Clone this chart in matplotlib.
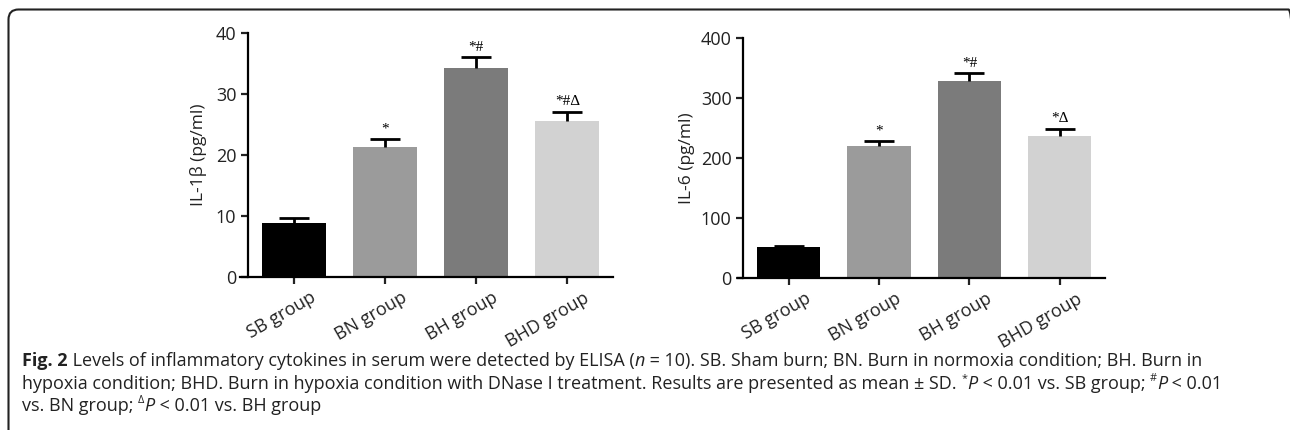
import matplotlib
matplotlib.use("Agg")
import matplotlib.pyplot as plt
from matplotlib.patches import FancyBboxPatch
from matplotlib.transforms import ScaledTranslation

plt.rcParams['font.family'] = ['Open Sans', 'DejaVu Sans']

groups = ['SB group', 'BN group', 'BH group', 'BHD group']
colors = ['#000000', '#9b9b9b', '#7b7b7b', '#d2d2d2']

il1b_mean = [8.9, 21.3, 34.2, 25.5]
il1b_sd = [0.8, 1.4, 1.8, 1.6]
il1b_marks = ['', '*', '*#', '*#\u0394']

il6_mean = [52, 220, 328, 236]
il6_sd = [2, 8, 13, 13]
il6_marks = ['', '*', '*#', '*\u0394']

fig = plt.figure(figsize=(12.9, 4.3), dpi=100)

# rounded frame (top and left edges only visible)
frame = FancyBboxPatch((8.5, -60), 1290, 420.5 + 60, boxstyle="round,pad=0,rounding_size=10",
                       transform=None, fill=False, edgecolor='#222222', linewidth=1.5)
fig.patches.append(frame)


def panel(rect, means, sds, marks, ymax, step, ylabel, x0, lpad):
    ax = fig.add_axes(rect)
    x = list(range(len(groups)))
    ax.bar(x, means, width=0.7, color=colors, zorder=2)
    eb = ax.errorbar(x, means, yerr=[[0] * len(sds), sds], fmt='none', ecolor='black',
                     elinewidth=2, capsize=10.5, capthick=2, zorder=3)
    eb[1][0].set_visible(False)  # no lower caps
    for xi, m, s, t in zip(x, means, sds, marks):
        if t:
            ax.annotate(t, (xi, m + s), xytext=(0, 2.5), textcoords='offset points',
                        ha='center', va='bottom', fontsize=11,
                        family=['Liberation Serif', 'DejaVu Serif'])
    ax.set_xlim(x0, 3.5)
    ax.set_ylim(0, ymax)
    ax.set_yticks(range(0, ymax + 1, step))
    ax.spines['top'].set_visible(False)
    ax.spines['right'].set_visible(False)
    ax.spines['left'].set_position(('data', -0.5))
    ax.spines['left'].set_linewidth(1.6)
    ax.spines['bottom'].set_linewidth(1.6)
    ax.tick_params(axis='both', width=1.6, length=5, labelsize=13, colors='#222222')
    ax.set_xticks(x)
    ax.set_xticklabels(groups, rotation=30, ha='right', va='top', rotation_mode='anchor')
    off = ScaledTranslation(16 / 100, 0, fig.dpi_scale_trans)
    for lab in ax.get_xticklabels():
        lab.set_transform(lab.get_transform() + off)
    ax.set_ylabel(ylabel, fontsize=12.5, labelpad=lpad, color='#222222')
    return ax


panel([240 / 1290, 153 / 430, 373 / 1290, 244 / 430], il1b_mean, il1b_sd, il1b_marks,
      40, 10, 'IL-1\u03b2 (pg/ml)', -0.59, 6)
panel([738 / 1290, 152 / 430, 367 / 1290, 240 / 430], il6_mean, il6_sd, il6_marks,
      400, 100, 'IL-6 (pg/ml)', -0.56, 4)

# caption with mixed styles
cap_size = 13
lines = [
    [('Fig. 2', 'bold', ''), (' Levels of inflammatory cytokines in serum were detected by ELISA (', '', ''),
     ('n', 'italic', ''), (' = 10). SB. Sham burn; BN. Burn in normoxia condition; BH. Burn in', '', '')],
    [('hypoxia condition; BHD. Burn in hypoxia condition with DNase I treatment. Results are presented as mean \u00b1 SD. ', '', ''),
     ('*', '', 'sup'), ('P', 'italic', ''), (' < 0.01 vs. SB group; ', '', ''),
     ('#', '', 'sup'), ('P', 'italic', ''), (' < 0.01', '', '')],
    [('vs. BN group; ', '', ''), ('\u0394', '', 'sup'), ('P', 'italic', ''), (' < 0.01 vs. BH group', '', '')],
]
line_y = [360, 383, 405]
renderer = fig.canvas.get_renderer()
for segs, yy in zip(lines, line_y):
    xx = 22
    for txt, style, pos in segs:
        kw = dict(fontsize=cap_size, color='#222222', va='baseline', ha='left', transform=None)
        y_disp = 430 - yy - 6
        if style == 'bold':
            kw['fontweight'] = 'bold'
        if style == 'italic':
            kw['fontstyle'] = 'italic'
        if pos == 'sup':
            kw['fontsize'] = cap_size * 0.6
            y_disp += 8
        t = fig.text(xx, y_disp, txt, **kw)
        xx += t.get_window_extent(renderer).width

fig.savefig('out.png', dpi=100)
